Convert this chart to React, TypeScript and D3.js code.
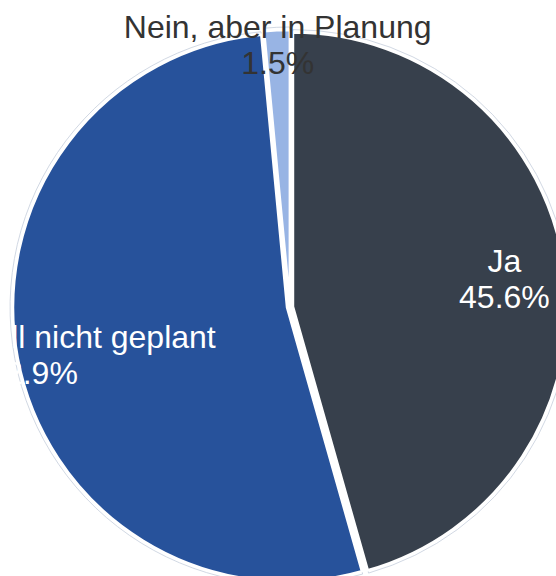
import * as d3 from "d3";

// chart data
const categories = ["Ja", "Nein, aktuell nicht geplant", "Nein, aber in Planung"];
const shares = [45.6, 52.9, 1.5];
const percentLabels = ["45.6%", "52.9%", "1.5%"];
const sliceColors = ["#37404c", "#27529b", "#98b4e4"];
const labelColors = ["#ffffff", "#ffffff", "#333333"];

const W = 556;
const H = 576;

const App = () => {
  const cx = 290;
  const cy = 307;
  const radius = 274;
  const explode = 3;
  const labelRadius = 262;
  const fontSize = 32;
  const lineH = 36;

  const pie = d3
    .pie<number>()
    .sort(null)
    .value((d) => d);
  const arcs = pie(shares);

  const arc = d3.arc<d3.PieArcDatum<number>>().innerRadius(0).outerRadius(radius);
  const outline = d3
    .arc<d3.PieArcDatum<number>>()
    .innerRadius(0)
    .outerRadius(radius + 3);
  const labelArc = d3
    .arc<d3.PieArcDatum<number>>()
    .innerRadius(labelRadius)
    .outerRadius(labelRadius);

  // rough width of the percent line (digits + % sign)
  const pctWidth = (s: string) => s.length * fontSize * 0.57;

  return (
    <svg
      width={W}
      height={H}
      style={{ position: "absolute", left: 0, top: 0, background: "#fff" }}
      fontFamily="'Liberation Sans', Arial, Helvetica, sans-serif"
    >
      <g transform={`translate(${cx},${cy})`}>
        {arcs.map((a, i) => {
          const mid = (a.startAngle + a.endAngle) / 2;
          const dx = Math.sin(mid) * explode;
          const dy = -Math.cos(mid) * explode;
          return (
            <g key={categories[i]} transform={`translate(${dx},${dy})`}>
              <path d={outline(a) || ""} fill="#fff" stroke="#c5cedc" strokeWidth={0.8} />
              <path d={arc(a) || ""} fill={sliceColors[i]} stroke="#fff" strokeWidth={2.5} />
            </g>
          );
        })}
        {arcs.map((a, i) => {
          const [lx, ly] = labelArc.centroid(a);
          // keep labels inside the right border of the chart
          const limit = W - 6 - cx - pctWidth(percentLabels[i]) / 2;
          const clamped = lx > limit;
          const x = clamped ? limit : lx;
          const y = clamped ? ly + 8 : ly;
          return (
            <text
              key={categories[i]}
              x={x}
              y={y}
              textAnchor="middle"
              fontSize={fontSize}
              fill={labelColors[i]}
            >
              <tspan x={x} dy={-lineH / 2 + 11}>
                {categories[i]}
              </tspan>
              <tspan x={x} dy={lineH}>
                {percentLabels[i]}
              </tspan>
            </text>
          );
        })}
      </g>
    </svg>
  );
};

export default App;
